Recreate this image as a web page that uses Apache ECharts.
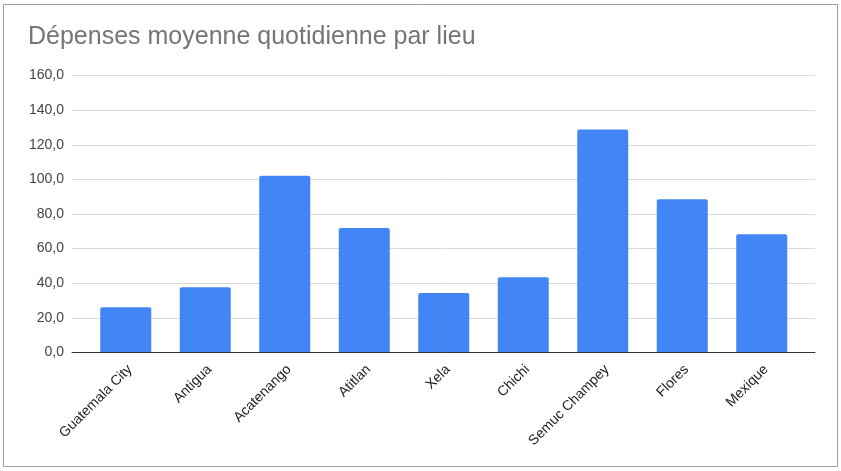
<!DOCTYPE html>
<html><head><meta charset="utf-8">
<script src="https://cdn.jsdelivr.net/npm/echarts@6/dist/echarts.min.js"></script>
<style>html,body{margin:0;padding:0;background:#fff}#c{width:841px;height:471px}</style>
</head><body><div id="c"></div>
<script>
const categories = ["Guatemala City","Antigua","Acatenango","Atitlan","Xela","Chichi","Semuc Champey","Flores","Mexique"];
const values = [26.2, 37.7, 102.1, 71.9, 34.3, 43.5, 128.8, 88.5, 68.3];
const yMin = 0, yMax = 160, yStep = 20;
const titleText = "Dépenses moyenne quotidienne par lieu";

const chart = echarts.init(document.getElementById('c'), null, {renderer:'canvas'});
const font = "Arial, 'Liberation Sans', sans-serif";
chart.setOption({
  animation: false,
  backgroundColor: '#fff',
  title: { text: titleText, left: 23, top: 20,
    textStyle: { fontFamily: font, fontSize: 25, fontWeight: 'normal', color: '#757575' } },
  graphic: [{ type: 'rect', shape: { x: 3.5, y: 4.5, width: 834, height: 462 },
    style: { fill: 'none', stroke: '#9e9e9e', lineWidth: 1 }, silent: true, z: 100 }],
  grid: [
    { left: 72, right: 26, top: 75.5, bottom: 118.5 },
    { left: 86, right: 39.5, top: 75.5, bottom: 118.5 }
  ],
  xAxis: [
    { gridIndex: 0, type: 'value', min: 0, max: 1, axisLabel: { show: false }, axisTick: { show: false },
      splitLine: { show: false }, axisLine: { show: true, lineStyle: { color: '#333', width: 1 } }, z: 5 },
    { gridIndex: 1, type: 'category', data: categories, axisTick: { show: false }, axisLine: { show: false },
      axisLabel: { rotate: 45, interval: 0, margin: 19, padding: [0, -6, 0, 0], fontFamily: font, fontSize: 14, color: '#222' } }
  ],
  yAxis: [
    { gridIndex: 0, type: 'value', min: yMin, max: yMax, interval: yStep,
      axisLine: { show: false }, axisTick: { show: false },
      axisLabel: { margin: 8, fontFamily: font, fontSize: 14, color: '#444',
        formatter: v => v.toFixed(1).replace('.', ',') },
      splitLine: { lineStyle: { color: '#d9d9d9', width: 1 } } },
    { gridIndex: 1, type: 'value', min: yMin, max: yMax, interval: yStep, show: false }
  ],
  series: [{ type: 'bar', xAxisIndex: 1, yAxisIndex: 1, data: values, barWidth: 51,
    itemStyle: { color: '#4285F4', borderRadius: [2,2,0,0] } }]
});
</script></body></html>
